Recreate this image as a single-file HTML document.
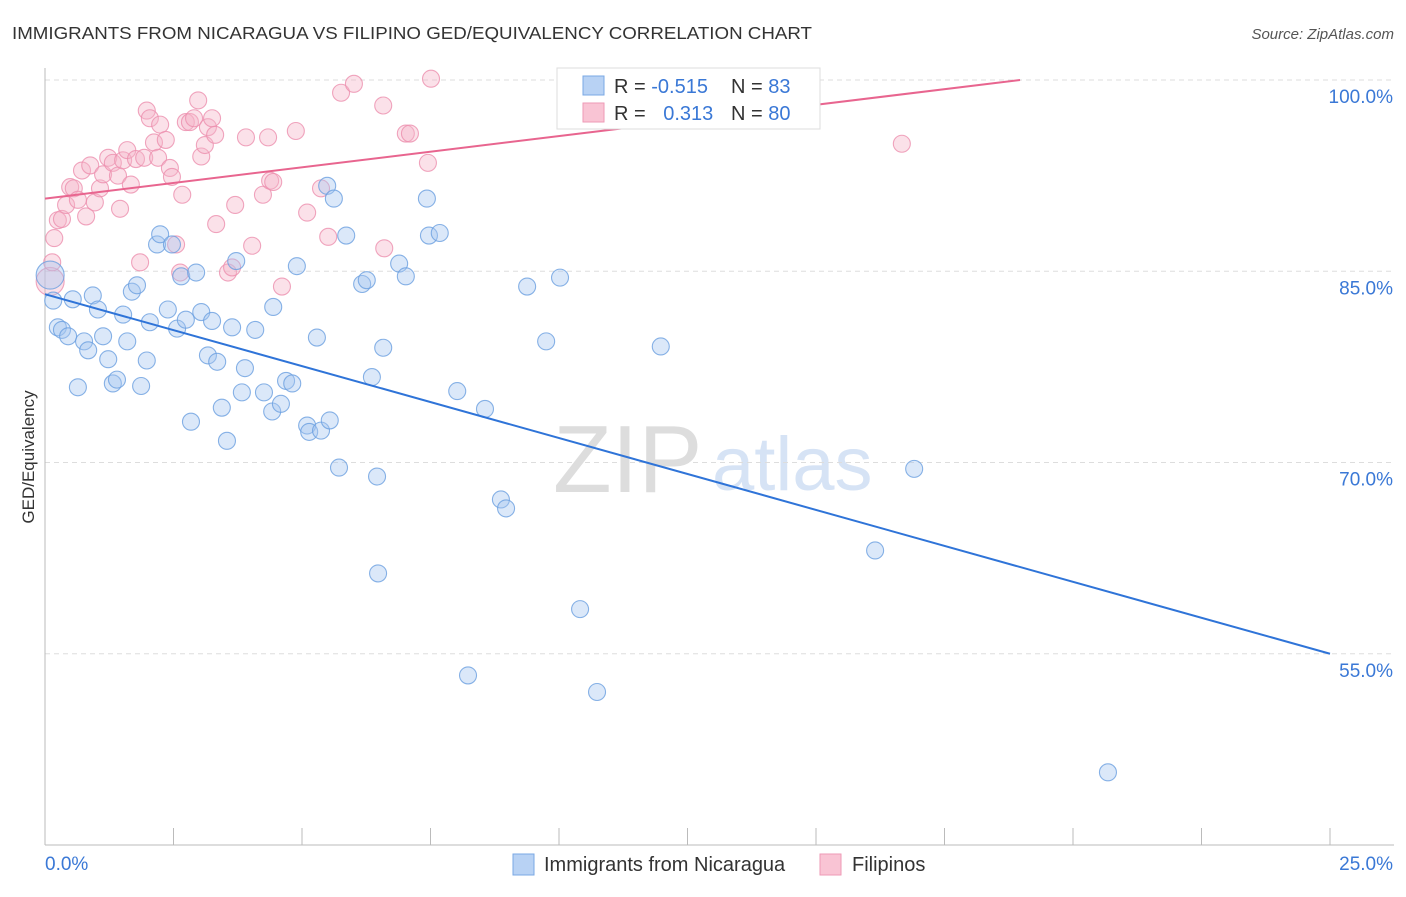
<!DOCTYPE html>
<html><head><meta charset="utf-8"><style>
body{margin:0;background:#fff;font-family:"Liberation Sans",sans-serif}
svg text{font-family:"Liberation Sans",sans-serif}
</style></head><body>
<svg id="chart" width="1406" height="892">
<text x="12" y="39" font-size="17.5" fill="#333" textLength="800" lengthAdjust="spacingAndGlyphs">IMMIGRANTS FROM NICARAGUA VS FILIPINO GED/EQUIVALENCY CORRELATION CHART</text>
<text x="1394" y="39" font-size="15" fill="#555" text-anchor="end" font-style="italic">Source: ZipAtlas.com</text>
<text x="34" y="457" font-size="17" fill="#333" text-anchor="middle" transform="rotate(-90 34 457)">GED/Equivalency</text>
<g id="watermark">
<text x="553" y="492" font-size="96" fill="#ddd" font-family="Liberation Serif">ZIP</text>
<text x="712" y="490" font-size="76" fill="#d6e3f5">atlas</text>
</g>
<g id="grid"></g><g id="axes"></g><g id="marks"></g><g id="trends"></g>
<g>
<rect x="557" y="68" width="263" height="61" fill="#fff" stroke="#ddd"/>
<rect x="583" y="76" width="21" height="19" fill="#b8d2f4" stroke="#7aa8e4"/>
<rect x="583" y="103" width="21" height="19" fill="#f9c4d4" stroke="#ee9ab6"/>
<text x="614" y="93" font-size="20" fill="#333">R = <tspan fill="#3a78d6">-0.515</tspan></text>
<text x="731" y="93" font-size="20" fill="#333">N = <tspan fill="#3a78d6">83</tspan></text>
<text x="614" y="120" font-size="20" fill="#333">R = <tspan fill="#3a78d6" dx="12">0.313</tspan></text>
<text x="731" y="120" font-size="20" fill="#333">N = <tspan fill="#3a78d6">80</tspan></text>
</g>
<g>
<rect x="513" y="854" width="21" height="21" fill="#b8d2f4" stroke="#7aa8e4"/>
<text x="544" y="871" font-size="20" fill="#333">Immigrants from Nicaragua</text>
<rect x="820" y="854" width="21" height="21" fill="#f9c4d4" stroke="#ee9ab6"/>
<text x="852" y="871" font-size="20" fill="#333">Filipinos</text>
</g>
</svg>
<script>
const blueX=[0.10,0.16,0.25,0.33,0.45,0.54,0.64,0.76,0.84,0.93,1.03,1.13,1.23,1.32,1.40,1.52,1.60,1.69,1.79,1.87,1.98,2.04,2.18,2.24,2.39,2.47,2.57,2.65,2.74,2.84,2.94,3.04,3.17,3.25,3.35,3.44,3.54,3.64,3.72,3.83,3.89,4.09,4.26,4.42,4.44,4.59,4.69,4.81,4.90,5.10,5.14,5.29,5.37,5.49,5.54,5.62,5.72,5.86,6.17,6.26,6.36,6.46,6.48,6.58,6.89,7.02,7.43,7.47,7.68,8.02,8.23,8.56,8.87,8.97,9.38,9.75,10.02,10.41,10.74,11.98,16.15,16.91,20.68];
const blueY=[84.7,82.7,80.6,80.4,79.9,82.8,75.9,79.5,78.8,83.1,82.0,79.9,78.1,76.2,76.5,81.6,79.5,83.4,83.9,76.0,78.0,81.0,87.1,87.9,82.0,87.1,80.5,84.6,81.2,73.2,84.9,81.8,78.4,81.1,77.9,74.3,71.7,80.6,85.8,75.5,77.4,80.4,75.5,74.0,82.2,74.6,76.4,76.2,85.4,72.9,72.4,79.8,72.5,91.7,73.3,90.7,69.6,87.8,84.0,84.3,76.7,68.9,61.3,79.0,85.6,84.6,90.7,87.8,88.0,75.6,53.3,74.2,67.1,66.4,83.8,79.5,84.5,58.5,52.0,79.1,63.1,69.5,45.7];
const pinkX=[0.10,0.14,0.18,0.25,0.33,0.41,0.49,0.56,0.64,0.72,0.80,0.88,0.97,1.07,1.13,1.23,1.32,1.42,1.46,1.52,1.60,1.67,1.77,1.85,1.93,1.98,2.04,2.12,2.20,2.24,2.35,2.43,2.47,2.55,2.63,2.67,2.74,2.82,2.90,2.98,3.04,3.11,3.17,3.25,3.31,3.33,3.56,3.64,3.70,3.91,4.03,4.24,4.34,4.38,4.44,4.61,4.88,5.10,5.37,5.51,5.76,6.01,6.58,6.60,7.02,7.10,7.45,7.51,11.77,16.67];
const pinkY=[84.2,85.7,87.6,89.0,89.1,90.2,91.6,91.5,90.6,92.9,89.3,93.3,90.4,91.5,92.6,93.9,93.5,92.5,89.9,93.7,94.5,91.8,93.8,85.7,93.9,97.6,97.0,95.1,93.9,96.5,95.3,93.1,92.4,87.1,84.9,91.0,96.7,96.7,97.0,98.4,94.0,94.9,96.3,97.0,95.7,88.7,84.9,85.3,90.2,95.5,87.0,91.0,95.5,92.1,92.0,83.8,96.0,89.6,91.5,87.7,99.0,99.7,98.0,86.8,95.8,95.8,93.5,100.1,100.2,95.0];
const blueTrendX=[0,25], blueTrendY=[83.2,55.0];
const pinkTrendX=[0,18.97], pinkTrendY=[90.7,100.0];
const yTicks=[100,85,70,55];
const yTickLabels=["100.0%","85.0%","70.0%","55.0%"];
const xTicks=[0,2.5,5,7.5,10,12.5,15,17.5,20,22.5,25];
const xEndLabels=["0.0%","25.0%"];

const NS="http://www.w3.org/2000/svg";
const sx=v=>45+v/25*1285;
const sy=v=>80+(100-v)*12.75;
function mk(tag,attrs,parent){const e=document.createElementNS(NS,tag);for(const k in attrs)e.setAttribute(k,attrs[k]);parent.appendChild(e);return e;}
const grid=document.getElementById('grid'),axes=document.getElementById('axes'),marks=document.getElementById('marks'),trends=document.getElementById('trends');
yTicks.forEach((t,i)=>{
 const l=mk('line',{x1:45,x2:1394,y1:sy(t),y2:sy(t),stroke:'#ddd','stroke-dasharray':'5,4'},grid);
 
 
 const tx=mk('text',{x:1393,y:sy(t)+23,'font-size':19,fill:'#3a78d6','text-anchor':'end'},axes);
 tx.textContent=yTickLabels[i];
 
 
});
const ax=mk('line',{x1:45,x2:1394,y1:845,y2:845,stroke:'#bbb'},axes);


const ay=mk('line',{x1:45,x2:45,y1:68,y2:845,stroke:'#bbb'},axes);


xTicks.forEach(t=>{
 const l=mk('line',{x1:sx(t),x2:sx(t),y1:828,y2:845,stroke:'#bbb'},axes);
 
 
});
[[0,'start'],[25,'end']].forEach((p,i)=>{
 const tx=mk('text',{x:i?1393:45,y:870,'font-size':19,fill:'#3a78d6','text-anchor':p[1]},axes);
 tx.textContent=xEndLabels[i];
 
 
});
function pts(X,Y,fill,stroke,name){
 X.forEach((x,i)=>{
  const c=mk('circle',{cx:sx(x),cy:sy(Y[i]),r:i===0?14:8.5,fill:fill,'fill-opacity':0.4,stroke:stroke,'stroke-opacity':0.8,'stroke-width':1.1},marks);
  
  
 });
}
pts(pinkX,pinkY,'#f6b3c8','#ec8fae','point-filipinos');
pts(blueX,blueY,'#a6c6ef','#6a9fe0','point-nicaragua');
const bt=mk('line',{x1:sx(blueTrendX[0]),y1:sy(blueTrendY[0]),x2:sx(blueTrendX[1]),y2:sy(blueTrendY[1]),stroke:'#2f74d8','stroke-width':2},trends);


const pt=mk('line',{x1:sx(pinkTrendX[0]),y1:sy(pinkTrendY[0]),x2:sx(pinkTrendX[1]),y2:sy(pinkTrendY[1]),stroke:'#e8658f','stroke-width':2},trends);


</script>
</body></html>
